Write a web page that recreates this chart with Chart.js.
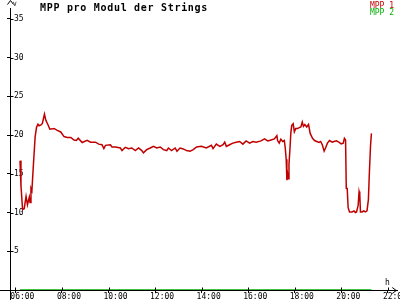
<!DOCTYPE html>
<html>
<head>
<meta charset="utf-8">
<script src="https://cdn.jsdelivr.net/npm/chart.js@4"></script>
<style>
  html, body { margin: 0; padding: 0; background: #fff; }
  #wrap { width: 400px; height: 300px; position: relative; }
</style>
</head>
<body>
<div id="wrap"><canvas id="mppChart"></canvas></div>
<script>
// --- Data (hours as decimals, volts) ---
const chartTitle = "MPP pro Modul der Strings";
const seriesNames = ["MPP 1", "MPP 2"];
const seriesColors = ["#c00000", "#00b000"];
const hourTicks = [6, 8, 10, 12, 14, 16, 18, 20, 22];
const voltTicks = [5, 10, 15, 20, 25, 30, 35];

const mpp1Times = [
  6.20, 6.24, 6.31, 6.38, 6.46, 6.52, 6.60, 6.63, 6.67, 6.71, 6.77, 6.85, 6.91, 6.97,
  7.02, 7.10, 7.16, 7.22, 7.25, 7.31, 7.42, 7.48, 7.59, 7.66, 7.80, 7.95, 8.09, 8.23,
  8.38, 8.52, 8.62, 8.70, 8.87, 9.08, 9.23, 9.44, 9.58, 9.72, 9.80, 9.87, 10.08, 10.15,
  10.30, 10.51, 10.58, 10.72, 10.86, 11.00, 11.15, 11.29, 11.43, 11.50, 11.64, 11.79,
  11.93, 12.07, 12.22, 12.36, 12.50, 12.57, 12.71, 12.86, 12.94, 13.07, 13.21, 13.35,
  13.50, 13.64, 13.78, 13.99, 14.20, 14.42, 14.49, 14.63, 14.78, 14.92, 14.99, 15.06,
  15.20, 15.34, 15.48, 15.63, 15.77, 15.91, 16.06, 16.20, 16.34, 16.55, 16.70, 16.84,
  16.98, 17.12, 17.23, 17.26, 17.33, 17.40, 17.48, 17.55, 17.59, 17.63, 17.66, 17.69,
  17.72, 17.75, 17.79, 17.83, 17.87, 17.93, 17.98, 18.04, 18.12, 18.19, 18.26, 18.32,
  18.37, 18.43, 18.51, 18.59, 18.66, 18.76, 18.85, 18.94, 19.04, 19.11, 19.18, 19.26,
  19.32, 19.40, 19.49, 19.61, 19.68, 19.79, 19.89, 19.99, 20.08, 20.13, 20.18, 20.21,
  20.25, 20.29, 20.35, 20.46, 20.54, 20.60, 20.65, 20.72, 20.76, 20.79, 20.82, 20.89,
  20.96, 21.03, 21.10, 21.16, 21.20, 21.25, 21.29
];
const mpp1Values = [
  16.7, 13.5, 10.4, 10.5, 12.1, 11.0, 12.0, 11.3, 13.1, 12.8, 15.9, 19.8, 21.0, 21.4,
  21.2, 21.3, 21.5, 22.3, 22.7, 21.9, 21.2, 20.75, 20.8, 20.85, 20.6, 20.4, 19.8, 19.7,
  19.7, 19.35, 19.3, 19.6, 19.04, 19.33, 19.08, 19.08, 18.83, 18.75, 18.25, 18.67, 18.75, 18.46,
  18.46, 18.33, 18.0, 18.42, 18.25, 18.33, 18.0, 18.33, 18.0, 17.7, 18.12, 18.33,
  18.54, 18.33, 18.46, 18.12, 18.0, 18.33, 18.0, 18.33, 17.92, 18.33, 18.21, 18.0,
  17.92, 18.12, 18.46, 18.54, 18.33, 18.67, 18.25, 18.83, 18.54, 18.75, 19.08, 18.54,
  18.75, 18.96, 19.08, 19.17, 18.83, 19.25, 18.96, 19.17, 19.08, 19.25, 19.5, 19.25,
  19.37, 19.5, 19.92, 19.29, 18.96, 19.46, 19.17, 19.29, 18.33, 16.88, 14.17, 15.0,
  14.37, 16.25, 18.12, 20.29, 21.25, 21.46, 20.42, 20.83, 20.83, 20.96, 21.04, 21.67,
  21.12, 21.37, 21.04, 21.37, 20.21, 19.58, 19.29, 19.17, 19.04, 19.17, 18.75, 17.92,
  18.33, 18.96, 19.29, 19.08, 19.17, 19.25, 19.08, 18.87, 18.96, 19.58, 19.37, 13.12,
  13.1, 10.62, 10.08, 10.08, 10.21, 10.0, 10.08, 10.92, 12.71, 12.29, 10.08, 10.08,
  10.21, 10.08, 10.21, 11.67, 15.0, 18.54, 20.21
];

const mpp2Times = [6.20, 21.29];
const mpp2Values = [0, 0];

// --- Helpers ---
const MONO = "'DejaVu Sans Mono', 'Liberation Mono', monospace";
const toPoints = (times, values) => times.map((t, i) => ({ x: t, y: values[i] }));
const hourLabel = (v) => String(v).padStart(2, "0") + ":00";

// axis arrows, inner tick halves, unit labels, title and legend text
const decor = {
  id: "decor",
  afterDraw(chart) {
    const { ctx, chartArea: a, scales: { x, y } } = chart;
    const ax = Math.round(a.left) + 0.5;
    const ay = Math.round(a.bottom) + 0.5;
    ctx.save();
    ctx.strokeStyle = "#000";
    ctx.lineWidth = 1;
    ctx.beginPath();
    // axis extensions
    ctx.moveTo(ax, ay); ctx.lineTo(ax, 300);
    ctx.moveTo(0, ay); ctx.lineTo(a.left, ay);
    // arrows
    ctx.moveTo(ax - 3, 4.5); ctx.lineTo(ax, 0.5); ctx.lineTo(ax + 3, 4.5);
    ctx.moveTo(a.right - 5, ay - 3); ctx.lineTo(a.right - 1, ay); ctx.lineTo(a.right - 5, ay + 3);
    // inner tick halves
    voltTicks.forEach((v) => {
      const py = Math.round(y.getPixelForValue(v)) + 0.5;
      ctx.moveTo(ax, py); ctx.lineTo(ax + 3, py);
    });
    hourTicks.forEach((h) => {
      const px = Math.round(x.getPixelForValue(h)) + 0.5;
      ctx.moveTo(px, ay); ctx.lineTo(px, ay - 3);
    });
    ctx.stroke();

    ctx.fillStyle = "#000";
    ctx.textBaseline = "alphabetic";
    ctx.textAlign = "left";
    ctx.font = "6px " + MONO;
    ctx.fillText("V", 13, 5.5);
    ctx.font = "8px " + MONO;
    ctx.fillText("h", 385, 284.5);

    ctx.font = "bold 10px " + MONO;
    if ("letterSpacing" in ctx) ctx.letterSpacing = "0.7px";
    ctx.fillText(chartTitle, 40, 10.5);
    if ("letterSpacing" in ctx) ctx.letterSpacing = "0px";

    ctx.font = "8px " + MONO;
    ctx.textAlign = "right";
    chart.data.datasets.forEach((ds, i) => {
      ctx.fillStyle = ds.borderColor;
      ctx.fillText(ds.label, 394, 7.5 + i * 7.5);
    });
    ctx.restore();
  }
};

// --- Render Chart ---
const ctx = document.getElementById("mppChart").getContext("2d");
new Chart(ctx, {
  type: "line",
  data: {
    datasets: [
      {
        label: seriesNames[0],
        data: toPoints(mpp1Times, mpp1Values),
        borderColor: seriesColors[0],
        borderWidth: 1.5,
        pointRadius: 0,
        tension: 0
      },
      {
        label: seriesNames[1],
        data: toPoints(mpp2Times, mpp2Values),
        borderColor: seriesColors[1],
        borderWidth: 1.5,
        pointRadius: 0,
        tension: 0
      }
    ]
  },
  options: {
    responsive: true,
    maintainAspectRatio: false,
    animation: false,
    layout: { padding: 0 },
    plugins: {
      legend: { display: false },
      title: { display: false },
      tooltip: { enabled: false }
    },
    scales: {
      x: {
        type: "linear",
        min: 5.77,
        max: 22.4,
        afterFit: (s) => { s.height = 10; },
        border: { display: true, color: "#000", width: 1 },
        grid: { drawOnChartArea: false, drawTicks: true, tickLength: 3, color: "#000" },
        afterBuildTicks: (s) => { s.ticks = hourTicks.map((v) => ({ value: v })); },
        ticks: {
          autoSkip: false,
          maxRotation: 0,
          minRotation: 0,
          padding: 0,
          labelOffset: 7,
          color: "#000",
          font: { family: MONO, size: 8, lineHeight: 1 },
          callback: (v) => hourLabel(v)
        }
      },
      y: {
        min: 0,
        max: 36.4,
        afterFit: (s) => { s.width = 10; },
        border: { display: true, color: "#000", width: 1 },
        grid: { drawOnChartArea: false, drawTicks: true, tickLength: 3, color: "#000" },
        afterBuildTicks: (s) => { s.ticks = voltTicks.map((v) => ({ value: v })); },
        ticks: {
          mirror: true,
          padding: 4,
          color: "#000",
          font: { family: MONO, size: 8, lineHeight: 1 },
          callback: (v) => String(v)
        }
      }
    }
  },
  plugins: [decor]
});
</script>
</body>
</html>
